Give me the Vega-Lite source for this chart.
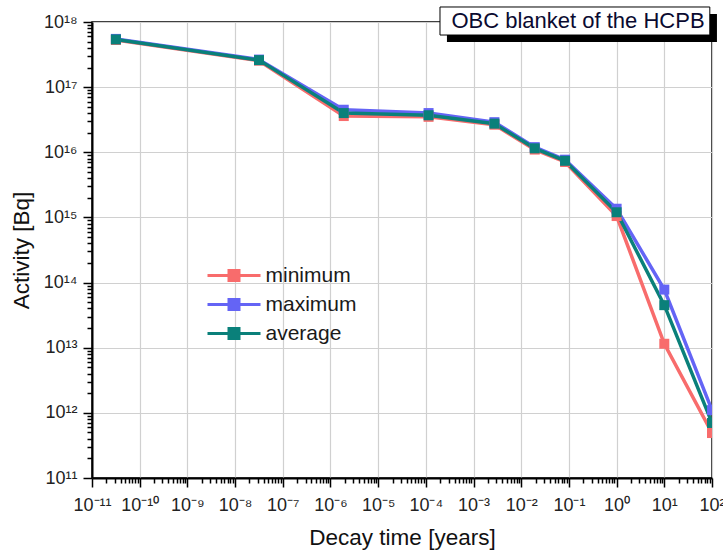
{
  "$schema": "https://vega.github.io/schema/vega-lite/v6.json",
  "width": 620,
  "height": 456,
  "autosize": {"type": "none"},
  "padding": {"left": 92, "top": 22, "right": 11, "bottom": 73},
  "background": "white",
  "config": {
    "font": "Liberation Sans",
    "view": {"stroke": "#000", "strokeWidth": 1.5},
    "axis": {
      "domainColor": "#000",
      "domainWidth": 2,
      "tickColor": "#000",
      "tickWidth": 1.5,
      "gridColor": "#d0d0d0",
      "gridWidth": 1.2,
      "labelFont": "Liberation Sans",
      "labelFontSize": 18,
      "labelColor": "#222",
      "titleFont": "Liberation Sans",
      "titleFontSize": 22.5,
      "titleFontWeight": "normal",
      "titleColor": "#111",
      "labelOverlap": false,
      "labelFlush": false
    }
  },
  "datasets": {
    "activity": [
      {"t": 3.17e-11, "a": 5.3e17, "s": "minimum"},
      {"t": 3.17e-8, "a": 2.55e17, "s": "minimum"},
      {"t": 1.9e-6, "a": 3.6e16, "s": "minimum"},
      {"t": 1.14e-4, "a": 3.5e16, "s": "minimum"},
      {"t": 2.74e-3, "a": 2.65e16, "s": "minimum"},
      {"t": 1.92e-2, "a": 1.1e16, "s": "minimum"},
      {"t": 8.3e-2, "a": 7.1e15, "s": "minimum"},
      {"t": 1, "a": 1.05e15, "s": "minimum"},
      {"t": 10, "a": 1.15e13, "s": "minimum"},
      {"t": 100, "a": 4.9e11, "s": "minimum"},
      {"t": 3.17e-11, "a": 5.5e17, "s": "maximum"},
      {"t": 3.17e-8, "a": 2.65e17, "s": "maximum"},
      {"t": 1.9e-6, "a": 4.5e16, "s": "maximum"},
      {"t": 1.14e-4, "a": 4.0e16, "s": "maximum"},
      {"t": 2.74e-3, "a": 2.9e16, "s": "maximum"},
      {"t": 1.92e-2, "a": 1.2e16, "s": "maximum"},
      {"t": 8.3e-2, "a": 7.7e15, "s": "maximum"},
      {"t": 1, "a": 1.36e15, "s": "maximum"},
      {"t": 10, "a": 7.8e13, "s": "maximum"},
      {"t": 100, "a": 1.1e12, "s": "maximum"},
      {"t": 3.17e-11, "a": 5.4e17, "s": "average"},
      {"t": 3.17e-8, "a": 2.6e17, "s": "average"},
      {"t": 1.9e-6, "a": 4.0e16, "s": "average"},
      {"t": 1.14e-4, "a": 3.7e16, "s": "average"},
      {"t": 2.74e-3, "a": 2.75e16, "s": "average"},
      {"t": 1.92e-2, "a": 1.15e16, "s": "average"},
      {"t": 8.3e-2, "a": 7.4e15, "s": "average"},
      {"t": 1, "a": 1.2e15, "s": "average"},
      {"t": 10, "a": 4.5e13, "s": "average"},
      {"t": 100, "a": 7.0e11, "s": "average"}
    ],
    "note": [{"label": "OBC blanket of the HCPB"}]
  },
  "layer": [
    {
      "data": {"name": "activity"},
      "mark": {
        "type": "line",
        "strokeWidth": 3.5,
        "clip": true,
        "point": {"shape": "square", "size": 100, "filled": true, "opacity": 1}
      },
      "encoding": {
        "x": {
          "field": "t",
          "type": "quantitative",
          "scale": {"type": "log", "domain": [1e-11, 100], "nice": false},
          "axis": {
            "title": "Decay time [years]",
            "titlePadding": 12,
            "labelPadding": 9,
            "values": [1e-11,2e-11,3e-11,4e-11,5e-11,6e-11,7e-11,8e-11,9e-11,
                       1e-10,2e-10,3e-10,4e-10,5e-10,6e-10,7e-10,8e-10,9e-10,
                       1e-9,2e-9,3e-9,4e-9,5e-9,6e-9,7e-9,8e-9,9e-9,
                       1e-8,2e-8,3e-8,4e-8,5e-8,6e-8,7e-8,8e-8,9e-8,
                       1e-7,2e-7,3e-7,4e-7,5e-7,6e-7,7e-7,8e-7,9e-7,
                       1e-6,2e-6,3e-6,4e-6,5e-6,6e-6,7e-6,8e-6,9e-6,
                       1e-5,2e-5,3e-5,4e-5,5e-5,6e-5,7e-5,8e-5,9e-5,
                       1e-4,2e-4,3e-4,4e-4,5e-4,6e-4,7e-4,8e-4,9e-4,
                       1e-3,2e-3,3e-3,4e-3,5e-3,6e-3,7e-3,8e-3,9e-3,
                       1e-2,2e-2,3e-2,4e-2,5e-2,6e-2,7e-2,8e-2,9e-2,
                       0.1,0.2,0.3,0.4,0.5,0.6,0.7,0.8,0.9,
                       1,2,3,4,5,6,7,8,9,
                       10,20,30,40,50,60,70,80,90,100],
            "labelExpr": "abs(log(datum.value)/LN10 - round(log(datum.value)/LN10)) < 0.001 ? '10' + replace(replace(replace(replace(replace(replace(replace(replace(replace(replace(replace('' + round(log(datum.value)/LN10), regexp('-','g'), '⁻'), regexp('0','g'), '⁰'), regexp('1','g'), '¹'), regexp('2','g'), '²'), regexp('3','g'), '³'), regexp('4','g'), '⁴'), regexp('5','g'), '⁵'), regexp('6','g'), '⁶'), regexp('7','g'), '⁷'), regexp('8','g'), '⁸'), regexp('9','g'), '⁹') : ''",
            "tickSize": {"condition": {"test": "abs(log(datum.value)/LN10 - round(log(datum.value)/LN10)) < 0.001", "value": 9}, "value": 5},
            "gridOpacity": {"condition": {"test": "abs(log(datum.value)/LN10 - round(log(datum.value)/LN10)) < 0.001", "value": 1}, "value": 0}
          }
        },
        "y": {
          "field": "a",
          "type": "quantitative",
          "scale": {"type": "log", "domain": [1e11, 1e18], "nice": false},
          "axis": {
            "title": "Activity [Bq]",
            "titlePadding": 10,
            "labelPadding": 6,
            "values": [1e11,2e11,3e11,4e11,5e11,6e11,7e11,8e11,9e11,
                       1e12,2e12,3e12,4e12,5e12,6e12,7e12,8e12,9e12,
                       1e13,2e13,3e13,4e13,5e13,6e13,7e13,8e13,9e13,
                       1e14,2e14,3e14,4e14,5e14,6e14,7e14,8e14,9e14,
                       1e15,2e15,3e15,4e15,5e15,6e15,7e15,8e15,9e15,
                       1e16,2e16,3e16,4e16,5e16,6e16,7e16,8e16,9e16,
                       1e17,2e17,3e17,4e17,5e17,6e17,7e17,8e17,9e17,1e18],
            "labelExpr": "abs(log(datum.value)/LN10 - round(log(datum.value)/LN10)) < 0.001 ? '10' + replace(replace(replace(replace(replace(replace(replace(replace(replace(replace(replace('' + round(log(datum.value)/LN10), regexp('-','g'), '⁻'), regexp('0','g'), '⁰'), regexp('1','g'), '¹'), regexp('2','g'), '²'), regexp('3','g'), '³'), regexp('4','g'), '⁴'), regexp('5','g'), '⁵'), regexp('6','g'), '⁶'), regexp('7','g'), '⁷'), regexp('8','g'), '⁸'), regexp('9','g'), '⁹') : ''",
            "tickSize": {"condition": {"test": "abs(log(datum.value)/LN10 - round(log(datum.value)/LN10)) < 0.001", "value": 9}, "value": 5},
            "gridOpacity": {"condition": {"test": "abs(log(datum.value)/LN10 - round(log(datum.value)/LN10)) < 0.001", "value": 1}, "value": 0}
          }
        },
        "color": {
          "field": "s",
          "type": "nominal",
          "sort": ["minimum", "maximum", "average"],
          "scale": {"domain": ["minimum", "maximum", "average"], "range": ["#F86C6C", "#6464F5", "#0A807A"]},
          "legend": {
            "title": null,
            "orient": "none",
            "legendX": 110,
            "legendY": 243,
            "symbolType": "M-5.3,0L5.3,0M-1,-1L1,-1L1,1L-1,1Z",
            "symbolSize": 100,
            "symbolOffset": 21.5,
            "symbolStrokeWidth": 3,
            "symbolOpacity": 1,
            "labelFont": "Liberation Sans",
            "labelFontSize": 21,
            "labelColor": "#1a1a1a",
            "labelOffset": 21,
            "rowPadding": 6,
            "encode": {
              "symbols": {
                "update": {
                  "fill": {"scale": "color", "field": "value"},
                  "stroke": {"scale": "color", "field": "value"}
                }
              }
            }
          }
        }
      }
    },
    {
      "data": {"name": "note"},
      "mark": {"type": "rect", "fill": "#000", "clip": false},
      "encoding": {
        "x": {"datum": 2.77e-4, "type": "quantitative"},
        "x2": {"datum": 127},
        "y": {"datum": 1.33e18, "type": "quantitative"},
        "y2": {"datum": 4.93e17}
      }
    },
    {
      "data": {"name": "note"},
      "mark": {"type": "rect", "fill": "#fff", "stroke": "#000", "strokeWidth": 1, "clip": false},
      "encoding": {
        "x": {"datum": 1.98e-4, "type": "quantitative"},
        "x2": {"datum": 90},
        "y": {"datum": 1.7e18, "type": "quantitative"},
        "y2": {"datum": 6.31e17}
      }
    },
    {
      "data": {"name": "note"},
      "mark": {"type": "text", "font": "Liberation Sans", "fontSize": 22, "color": "#0a0a30", "align": "center", "baseline": "middle", "clip": false},
      "encoding": {
        "x": {"datum": 0.155, "type": "quantitative"},
        "y": {"datum": 1.04e18, "type": "quantitative"},
        "text": {"field": "label"}
      }
    }
  ]
}
